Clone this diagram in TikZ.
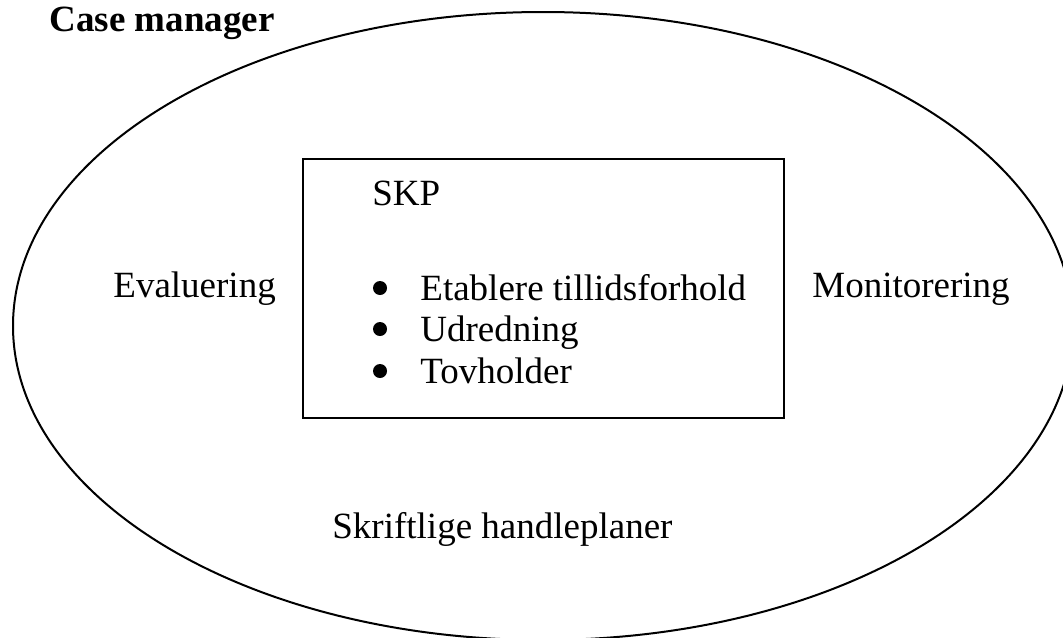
\documentclass[tikz,border=0pt]{standalone}
\usepackage{fontspec}
\setmainfont{Liberation Serif}
\begin{document}
\begin{tikzpicture}[x=0.5pt,y=-0.5pt,
  lbl/.style={anchor=base west,inner sep=0pt,font=\fontsize{18.5pt}{22pt}\selectfont},
  bul/.style={circle,fill=black,inner sep=0pt,minimum size=7pt},
  frame/.style={draw=black,line width=1pt}]
\useasboundingbox (0,0) rectangle (1063,637);
\clip (0,0) rectangle (1063,637);
\draw[frame] (543,326) ellipse [x radius=265pt, y radius=157pt];
\draw[frame] (303,159) rectangle (784,418);
\node[lbl,font=\fontsize{18.5pt}{22pt}\selectfont\bfseries] (title) at (49,32) {Case manager};
\node[lbl] (skp) at (372,205) {SKP};
\node[bul] (b1) at (380,288) {};
\node[lbl] (t1) at (420,300) {Etablere tillidsforhold};
\node[bul] (b2) at (380,329) {};
\node[lbl] (t2) at (420,341) {Udredning};
\node[bul] (b3) at (380,371) {};
\node[lbl] (t3) at (420,383) {Tovholder};
\node[lbl] (eval) at (113,297) {Evaluering};
\node[lbl] (mon) at (812,297) {Monitorering};
\node[lbl] (skr) at (332,538) {Skriftlige handleplaner};
\end{tikzpicture}
\end{document}
